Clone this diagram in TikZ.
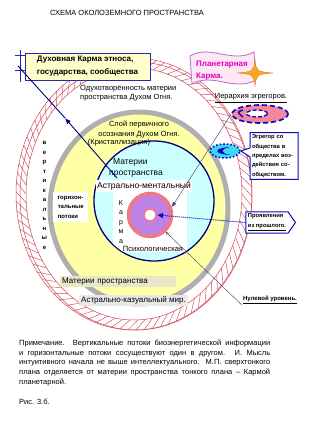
\documentclass[tikz,border=0pt]{standalone}
\usepackage{fontspec}
\setmainfont{Liberation Sans}
\definecolor{navyline}{RGB}{0,0,128}
\definecolor{boxblue}{RGB}{40,40,170}
\definecolor{boxfill}{RGB}{255,255,204}
\definecolor{beltred}{RGB}{210,70,90}
\definecolor{grayring}{RGB}{175,175,175}
\definecolor{yellowfill}{RGB}{255,255,165}
\definecolor{cyanfill}{RGB}{204,255,255}
\definecolor{salmon}{RGB}{240,120,130}
\definecolor{violetfill}{RGB}{190,130,230}
\definecolor{pinkfill}{RGB}{245,135,155}
\definecolor{dashblue}{RGB}{10,10,190}
\definecolor{egrcyan}{RGB}{60,215,245}
\definecolor{flagfill}{RGB}{255,232,245}
\definecolor{flagline}{RGB}{180,110,200}
\definecolor{karmamag}{RGB}{225,0,190}
\definecolor{starorange}{RGB}{250,165,35}
\definecolor{lblgray}{RGB}{232,232,232}
\definecolor{lblsand}{RGB}{232,232,200}
\usetikzlibrary{shapes.geometric,shapes.symbols,shapes.callouts,arrows.meta,positioning}

\begin{document}
\begin{tikzpicture}[x=1pt, y=-1pt]
                \tikzstyle{hatch} = [draw=beltred, line width=0.45pt]
                \tikzstyle{belt} = [draw=beltred, line width=0.5pt]
                \tikzstyle{t} = [inner sep=1pt, font=\fontsize{7.5}{9.5}\selectfont]
                \tikzstyle{tb} = [inner sep=1pt, font=\bfseries\fontsize{6}{9.5}\selectfont]
                \tikzstyle{bl} = [draw=dashblue, line width=1pt, fill=white, font=\bfseries\fontsize{5.8}{9.4}\selectfont, align=left]
                \tikzstyle{thin} = [draw={rgb,255:red,60;green,60;blue,110}, line width=0.4pt]
                
                \useasboundingbox (0,0) rectangle (336,437);
                \fill[white] (0,0) rectangle (336,437);
                
                % outer belt
                \foreach \a in {0,4,...,356}
                  \draw[hatch] ([shift={(134,194)}]\a:108 and 126) -- ([shift={(134,194)}]\a+5:118 and 136);
                \draw[belt] (134,194) ellipse [x radius=118, y radius=136];
                \draw[belt] (136,196) ellipse [x radius=116, y radius=134];
                \draw[belt] (134,194) ellipse [x radius=108, y radius=126];
                
                % rings
                \draw[grayring, line width=5pt, fill=yellowfill] (139,208) ellipse [x radius=89, y radius=96];
                \draw[navyline, line width=1.3pt, fill=cyanfill] (154,201) circle [radius=60];
                \begin{scope}
                  \clip (154,201) circle [radius=59.3];
                  \fill[white] (113,180) rectangle (187,252);
                \end{scope}
                
                % labels
                \node[font=\fontsize{7.5}{9}\selectfont] (title) at (127,13) {СХЕМА ОКОЛОЗЕМНОГО ПРОСТРАНСТВА};
                \node[t, anchor=west, align=left] (spirit) at (79,93) {Одухотворённость материи\\пространства Духом Огня.};
                \node[t, align=center] (layer) at (139,129.5) {Слой первичного\\осознания Духом Огня.};
                \node[t] (cryst) at (119,143) {(Кристаллизация)};
                \node[t, anchor=west, align=left, font=\fontsize{8.5}{11}\selectfont] (matter) at (108,168) {\hspace*{4pt}Материи\\пространства};
                \node[t, fill=white, font=\fontsize{8.5}{10}\selectfont, minimum width=93, inner sep=1.5pt] (astm) at (144,186) {Астрально-ментальный};
                \node[t] (psy) at (153,248.5) {Психологическая};
                \node[t, font=\fontsize{7}{9.5}\selectfont, align=center] (karma) at (121,222) {К\\а\\р\\м\\а};
                \node[tb, fill=white, align=left, minimum width=35, minimum height=30, anchor=north west] (horiz) at (53,192) {горизон-\\тальные\\потоки};
                \node[tb, align=center] (vert) at (44.5,195.5) {в\\е\\р\\т\\и\\к\\а\\л\\ь\\н\\ы\\е};
                \node[t, fill=lblsand, anchor=west, text width=112, inner sep=2pt, font=\fontsize{8}{9.5}\selectfont] (matter2) at (60,281.5) {Материи пространства};
                \node[t, fill=lblgray, anchor=west, inner sep=2pt, font=\fontsize{8}{9.5}\selectfont] (astc) at (79,300.5) {Астрально-казуальный мир.};
                
                % karma box
                \node[draw=boxblue, line width=1pt, fill=boxfill, minimum width=125, minimum height=27, align=left, inner sep=2pt, font=\bfseries\fontsize{8}{13}\selectfont] (dk) at (87.5,66.5) {Духовная Карма этноса,\\государства, сообщества};
                \draw[boxblue, line width=1pt] (20,50) -- (20,82);
                \draw[boxblue, line width=0.6pt] (15,55) -- (25,55);
                \draw[boxblue, line width=0.6pt] (15,70) -- (25,70);
                
                % planetary karma
                \draw[flagline, fill=flagfill, line width=0.8pt] (190,56) .. controls (210,44) and (232,64) .. (254,52) -- (256,80) .. controls (234,92) and (212,72) .. (192,84) -- cycle;
                \node[align=left, text=karmamag, font=\bfseries\fontsize{8}{12}\selectfont] (pk) at (222,70.5) {Планетарная\\Карма.};
                \fill[starorange, draw={rgb,255:red,235;green,130;blue,20}, line width=0.4pt] (255,60) .. controls (256.5,71.5) .. (273,73) .. controls (256.5,74.5) .. (255,86) .. controls (253.5,74.5) .. (237,73) .. controls (253.5,71.5) .. cycle;
                
                % egregors
                \node[t, font=\fontsize{7.5}{9}\selectfont] (hierl) at (251,98) {\underline{Иерархия эгрегоров.}};
                \node[ellipse, minimum width=56, minimum height=18, inner sep=0, fill=pinkfill, draw=dashblue, line width=1.7pt, dash pattern=on 5pt off 3pt] (hier) at (260,114) {};
                \node[ellipse, minimum width=21, minimum height=7, inner sep=0, fill=white, draw=dashblue, line width=1.3pt, dash pattern=on 4pt off 2pt] (hiercore) at (257,113.5) {};
                \draw[dashblue, line width=1.5pt] (243,110) .. controls (237,112) .. (243,117);
                \node[ellipse, minimum width=30, minimum height=14, inner sep=0, fill=egrcyan, draw=dashblue, line width=1.6pt, dotted] (egr) at (225,151) {};
                \fill[dashblue] (230,147) .. controls (213,148) and (213,154) .. (230,155) .. controls (220,153) and (220,149) .. (230,147);
                \node[bl, rectangle callout, callout absolute pointer={(egr.east)}, callout pointer width=9pt, text width=44, inner sep=2pt] (egrbox) at (274,156) {Эгрегор со\\общества в\\пределах воз-\\действия со-\\обществом.};
                
                % core ring
                \node[circle, minimum size=43, inner sep=0, fill=violetfill, draw=salmon, line width=3.5pt] (ring) at (150,215) {};
                \node[circle, minimum size=12, inner sep=0, fill=white, draw=salmon, line width=1.5pt] (core) at (150,215) {};
                
                % right labels
                \node[bl, signal, signal to=east, signal pointer angle=110, inner sep=2pt, minimum height=20, font=\bfseries\fontsize{5.8}{10}\selectfont] (past) at (267,222.5) {Проявления\\\underline{из прошлого.}};
                \node[tb] (zero) at (270,300) {\underline{Нулевой уровень.}};
                
                % connectors
                \coordinate (nvs) at (117,178);
                \coordinate (nvm) at (65,118);
                \coordinate (nve) at (18,66);
                \draw[navyline, line width=0.9pt, -{Latex[length=6pt,width=5pt]}] (nvs) -- (nvm);
                \draw[navyline, line width=0.9pt] (nvm) -- (nve);
                \draw[dashblue, line width=1pt, densely dotted, -{Latex[length=6pt,width=6pt]}] (past.west) -- ([xshift=7]core.center);
                \draw[thin, -{Latex[length=5pt,width=4pt]}] (hier.west) -- (ring.20);
                \draw[thin, -{To[length=4pt,width=5pt]}] (zero.south west) -- (ring.-47);
                
                % note
                \node[anchor=north west, text width=251, align=justify, inner sep=0, font=\fontsize{7.5}{9.6}\selectfont] (note) at (19,340) {Примечание.\ \ Вертикальные потоки биоэнергетической информации\linebreak и горизонтальные потоки сосуществуют один в другом. И. Мысль\linebreak интуитивного начала не выше интеллектуального. М.П. сверхтонкого\linebreak плана отделяется от материи пространства тонкого плана -- Кармой\linebreak планетарной.};
                \node[anchor=west, inner sep=0, font=\fontsize{7.5}{9}\selectfont] (fig) at (19,402) {Рис. 3.б.};
            \end{tikzpicture}
\end{document}
